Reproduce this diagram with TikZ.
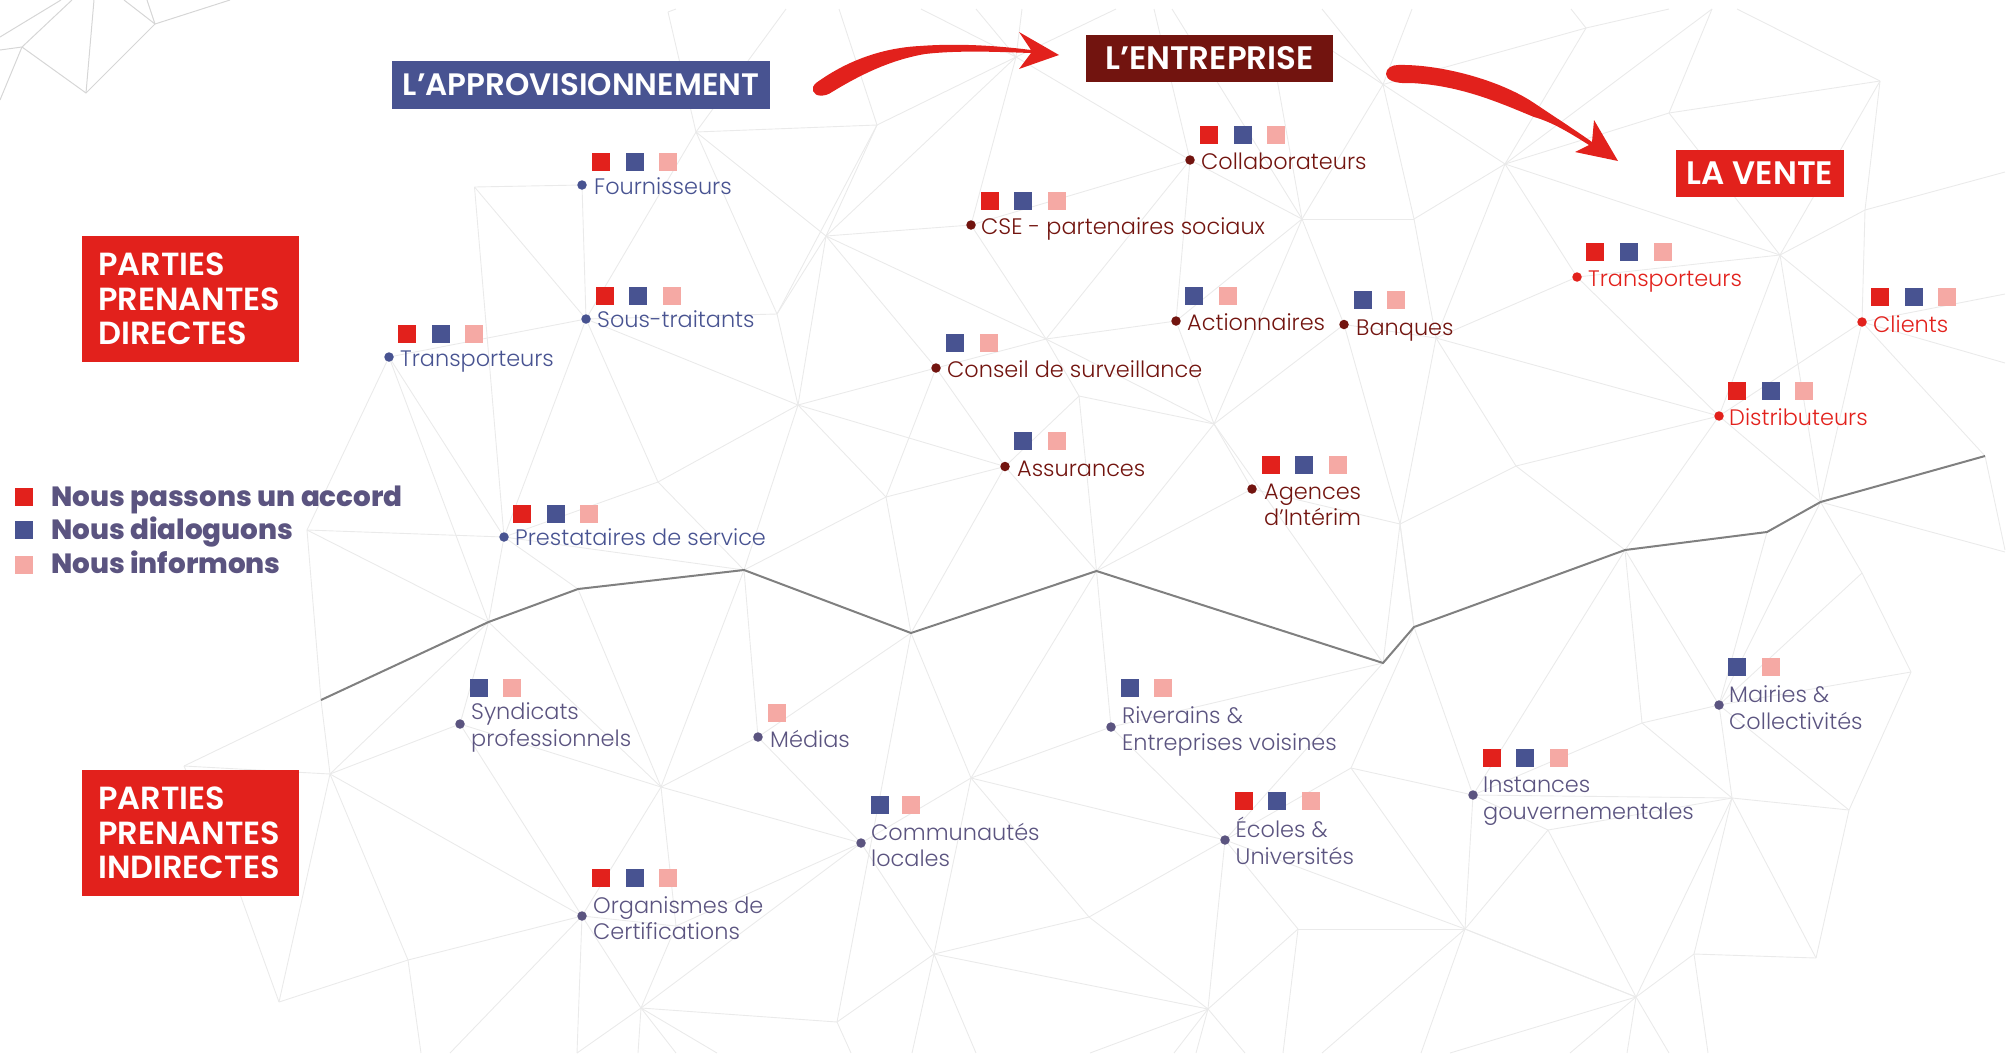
\documentclass[tikz,border=0pt]{standalone}
\usepackage{fontspec}
\usetikzlibrary{backgrounds}
\setmainfont{Poppins}
\newfontfamily\labf{Poppins}[UprightFont=* Light]
\newfontfamily\headf{Poppins}[UprightFont=* SemiBold]
\newfontfamily\legf{Poppins}[UprightFont=* ExtraBold]
\definecolor{cred}{HTML}{E2211C}
\definecolor{cblue}{HTML}{485391}
\definecolor{cpink}{HTML}{F5A9A4}
\definecolor{cdark}{HTML}{72140F}
\definecolor{cind}{HTML}{5B5480}
\definecolor{cmesh}{HTML}{EAEAEA}
\definecolor{cmeshtl}{HTML}{D6D6D6}
\definecolor{cgray}{HTML}{808080}
\tikzset{
  sqr/.style={rectangle,draw=none,fill=cred,minimum size=18pt,inner sep=0pt},
  sqb/.style={rectangle,draw=none,fill=cblue,minimum size=18pt,inner sep=0pt},
  sqp/.style={rectangle,draw=none,fill=cpink,minimum size=18pt,inner sep=0pt},
  dotn/.style={circle,draw=none,fill=#1,minimum size=9.5pt,inner sep=0pt},
  lab/.style={anchor=base west,yshift=-8pt,inner sep=0pt,text=#1,font=\labf\fontsize{22.4}{26.5}\selectfont},
  lab2/.style={anchor=west,align=left,inner sep=0pt,text=#1,font=\labf\fontsize{22.4}{26.5}\selectfont},
  titlebox/.style={rectangle,draw=none,fill=#1,text=white,inner sep=0pt,font=\headf\fontsize{32.5}{36}\selectfont},
  sidebox/.style={rectangle,draw=none,fill=cred,text=white,inner sep=0pt,minimum width=217pt,minimum height=126pt},
  sidetext/.style={anchor=west,align=left,inner sep=0pt,text=white,font=\headf\fontsize{32}{34.4}\selectfont},
  leg/.style={anchor=base west,inner sep=0pt,text=cind,font=\legf\fontsize{27.8}{32}\selectfont},
  meshl/.style={draw=cmesh,line width=0.9pt},
  meshtl/.style={draw=cmeshtl,line width=1pt},
  sep/.style={draw=cgray,line width=2pt,line join=miter},
  flow/.style={fill=cred,draw=none}
}
\begin{document}
\begin{tikzpicture}[x=1pt,y=-1pt]
\useasboundingbox (0,0) rectangle (2009,1053);
% mesh vertices
\foreach \n/\x/\y in {vA/696/132,vB/877/125,vC/826/236,vD/474.5/187,vE/798/405,vG/777/314,vH/658/482,vI/886/497,vK/1016/57,vM/1383/84.5,vN/1302/219,vO/1414/219,vP/1046/339,vQ/1079/396,vR/1214/424,vU/1436/338,vV/1505/164,vW/1780/255,vY/1516/466,vZ/1400/524,vBB/1586/28,vCC/1669/113,vDD/1880/81,vEE/1865/210,
g1/321/700,g2/488.5/622,g3/578/589,g4/744/570,g5/911/633,g6/1096.5/571,g7/1383/663,g8/1414/627,g9/1625/550,g10/1767/532,g11/1820.5/502,g12/1985/456,
vb1/307/530,a2/330/774,a4/184/766,a5/661/787,a7/971/778,a8/934/954,a9/837/1022,a10/641/1008,a12/408/960,a13/279/1002,a14/241/897,a15/577/1053,a16/676/926,
c6/1351/768,c7/1642/723,c8/1732/798,c9/1548/830,c10/1465/929,c11/1298/929,c12/1089/917,c13/1208/1009,c14/1636/997,c15/1816/958,c16/1694/954,c17/1849/810,c18/1911/672,c19/1862/573,
t1/668/12,t1b/676/9,t2/786/9,t3/839/9,t4/921/9,t5/976/9,t6/1022/9,t7/1116/9,t8/1154/9,t9/1172/9,t10/1322/9,t11/1412/9,t12/1571/9,t13/1669/9,t14/1712/9,t15/1737/9,t17/1270/40,t18/1310/36,
r1/2005/172,r2/2005/294,r3/2005/363,r4/2005/550,r6/2005/552,
b1/421/1053,b2/450/1053,b3/638/1053,b4/676/1053,b5/717/1053,b6/851/1053,b7/912/1053,b8/976/1053,b9/1090/1053,b10/1174/1053,b11/1196/1053,b12/1245/1053,b13/1283/1053,b14/1322/1053,b15/1421/1053,b16/1450/1053,b17/1570/1053,b18/1627/1053,b19/1669/1053,b20/1708/1053,
tl1/22/47,tl2/86/93,tl3/155/24,e1/230/0,e2/147/0,e3/124/0,e4/94/0,e5/72/0,e6/0/50,e7/0/100,e8/61/0,e9/0/37}
  \coordinate (\n) at (\x,\y);
% dots
\foreach \n/\x/\y in {dFou/582/185,dSou/586/319,dTra/389/357,dPre/504/537}
  \node[dotn=cblue] (\n) at (\x,\y) {};
\foreach \n/\x/\y in {dCol/1190/160,dCse/971/225,dAct/1176/321,dBan/1344/324.5,dCon/936/368,dAss/1005/466.5,dAge/1252/489}
  \node[dotn=cdark] (\n) at (\x,\y) {};
\foreach \n/\x/\y in {dTr2/1577/277,dCli/1862/322,dDis/1719/416}
  \node[dotn=cred] (\n) at (\x,\y) {};
\foreach \n/\x/\y in {dSyn/460/724,dMed/758/737,dCom/861/843,dOrg/582/916,dRiv/1111/727,dEco/1225/840,dIns/1473/795,dMai/1719/705}
  \node[dotn=cind] (\n) at (\x,\y) {};
% squares
\foreach \n/\x/\y in {r01/601/162,r02/605/296,r03/407/334,r04/522/513.5,r05/1209/135,r06/990/201,r07/1271/465,r08/1595/252,r09/1880/297,r10/1737/391,r11/601/878,r12/1244/801,r13/1492/758,r14/24/497}
  \node[sqr] (\n) at (\x,\y) {};
\foreach \n/\x/\y in {s01/635/162,s02/638/296,s03/441/334,s04/556/513.5,s05/1243/135,s06/1023/201,s07/1304/465,s08/1629/252,s09/1914/297,s10/1771/391,s11/635/878,s12/1277/801,s13/1525/758,s14/1194/295.5,s15/1363/299.5,s16/955/343,s17/1023/441,s18/479/688,s19/879.5/805,s20/1130/688,s21/1737/667,s22/24/530}
  \node[sqb] (\n) at (\x,\y) {};
\foreach \n/\x/\y in {p01/668/162,p02/672/296,p03/474/334,p04/589/513.5,p05/1276/135,p06/1057/201,p07/1338/465,p08/1663/252,p09/1947/297,p10/1804/391,p11/668/878,p12/1311/801,p13/1559/758,p14/1228/295.5,p15/1396/299.5,p16/989/343,p17/1057/441,p18/512/688,p19/911/805,p20/1163/688,p21/1771/667,p22/24/565,p23/777/713}
  \node[sqp] (\n) at (\x,\y) {};
% title boxes
\node[titlebox=cblue,minimum width=378pt,minimum height=47.5pt,font=\headf\fontsize{31}{36}\selectfont] (boxA) at (581,84.75) {L’APPROVISIONNEMENT};
\node[titlebox=cdark,minimum width=247pt,minimum height=47.5pt] (boxE) at (1209.5,58.25) {L’ENTREPRISE};
\node[titlebox=cred,minimum width=168pt,minimum height=47pt] (boxV) at (1760,173.5) {LA VENTE};
\node[sidebox] (boxD) at (190.5,299) {};
\node[sidetext] (txtD) at (98,299) {PARTIES\\PRENANTES\\DIRECTES};
\node[sidebox] (boxI) at (190.5,833) {};
\node[sidetext] (txtI) at (98,833) {PARTIES\\PRENANTES\\INDIRECTES};
% legend
\node[leg] (leg1) at (51,506) {Nous passons un accord};
\node[leg] (leg2) at (51,539.5) {Nous dialoguons};
\node[leg] (leg3) at (51,573) {Nous informons};
% labels
\node[lab=cblue] (lFou) at (594,186) {Fournisseurs};
\node[lab=cblue] (lSou) at (597,319) {Sous-traitants};
\node[lab=cblue] (lTra) at (400,358) {Transporteurs};
\node[lab=cblue] (lPre) at (515,537) {Prestataires de service};
\node[lab=cdark] (lCol) at (1201,161) {Collaborateurs};
\node[lab=cdark] (lCse) at (981,226) {CSE - partenaires sociaux};
\node[lab=cdark] (lAct) at (1187,322.5) {Actionnaires};
\node[lab=cdark] (lBan) at (1356,327) {Banques};
\node[lab=cdark] (lCon) at (947,369.5) {Conseil de surveillance};
\node[lab=cdark] (lAss) at (1017,468.5) {Assurances};
\node[lab2=cdark] (lAge) at (1264,505) {Agences\\d’Intérim};
\node[lab=cred] (lTr2) at (1588,278.5) {Transporteurs};
\node[lab=cred] (lCli) at (1873,324.5) {Clients};
\node[lab=cred] (lDis) at (1729,417) {Distributeurs};
\node[lab2=cind] (lSyn) at (471,727.5) {Syndicats\\professionnels};
\node[lab=cind] (lMed) at (770,739) {Médias};
\node[lab2=cind] (lCom) at (871,845) {Communautés\\locales};
\node[lab2=cind] (lOrg) at (593,918) {Organismes de\\Certifications};
\node[lab2=cind] (lRiv) at (1122,731.5) {Riverains \&\\Entreprises voisines};
\node[lab2=cind] (lEco) at (1235.5,841) {Écoles \&\\Universités};
\node[lab2=cind] (lIns) at (1483,801) {Instances\\gouvernementales};
\node[lab2=cind] (lMai) at (1729,707.5) {Mairies \&\\Collectivités};
% flow arrows
\fill[flow] (816,83) .. controls (845,62) and (880,48) .. (920,46) .. controls (960,43) and (1000,46) .. (1031,50)
  -- (1019,32) -- (1059,55) -- (1019,69) -- (1031,53)
  .. controls (1000,52) and (960,50) .. (925,54) .. controls (890,60) and (860,75) .. (832,92)
  .. controls (825,97) and (815,97) .. (813,91) .. controls (812,88) and (813,86) .. (816,83) -- cycle;
\fill[flow] (1398,65) .. controls (1440,64) and (1500,80) .. (1534,103) .. controls (1555,117) and (1575,130) .. (1592,142)
  -- (1594,120) -- (1618,161) -- (1575,152) -- (1589,145)
  .. controls (1570,133) and (1552,122) .. (1534,117) .. controls (1500,103) and (1460,85) .. (1410,83)
  .. controls (1395,84) and (1386,80) .. (1386,74) .. controls (1386,68) and (1392,65) .. (1398,65) -- cycle;
% separator
\draw[sep] (g1)--(g2)--(g3)--(g4)--(g5)--(g6)--(g7)--(g8)--(g9)--(g10)--(g11)--(g12);
% mesh
\begin{pgfonlayer}{background}
\foreach \a/\b in {tl3/e1,tl3/e2,tl3/e3,tl3/tl2,tl2/tl1,tl2/e4,tl1/e5,tl1/e6,tl1/e7,e8/e9}
  \draw[meshtl] (\a.center)--(\b.center);
\foreach \a/\b in {vA/t1,t1/t1b,vA/t2,vA/vB,vA/vC,vA/vG,vA/dSou,vB/t3,vB/vK,vB/vC,vB/vG,t4/vK,t5/vK,t6/vK,t7/vK,t8/dCol,t9/vN,t17/vN,t18/vM,
vC/vK,vC/dCse,vC/vG,vC/vE,vC/vP,vC/dCon,vK/dCse,vK/dCol,
vD/dFou,vD/dSou,vD/dPre,dFou/dSou,dSou/vG,dSou/vE,dSou/vH,dSou/dPre,dSou/dTra,vG/vE,vE/vH,vE/vI,vE/dAss,vE/dCon,vE/g4,vH/g4,vH/dPre,vI/dAss,vI/dCon,vI/g4,vI/g5,
dTra/vb1,dTra/dPre,dTra/g2,vb1/g1,vb1/dPre,vb1/g2,dPre/g2,dPre/g3,dPre/g4,
dCse/dCol,dCse/vP,vP/dCon,vP/dCol,vP/dAct,vP/vQ,vP/vR,vQ/vR,vQ/dAss,vQ/g6,dCon/dAss,dAss/g5,dAss/g6,
vR/dAge,vR/g6,vR/g7,vR/dAct,vR/dBan,vR/vN,dAge/g6,dAge/vZ,vZ/vY,vZ/dBan,vZ/vU,vZ/g7,vZ/g8,dBan/vN,dBan/vU,dAct/vN,dAct/dCol,
vN/dCol,vN/vM,vN/vO,vM/t10,vM/t11,vM/vO,vM/vV,vM/vBB,vO/vV,vO/vU,vU/vV,vU/dTr2,vU/dDis,vU/vY,vV/vBB,vV/vCC,vV/t14,vV/vW,vV/dTr2,vBB/t12,vBB/t13,vCC/vDD,vCC/t14,vCC/vW,vDD/t15,vDD/vW,vDD/vEE,
vW/dTr2,vW/dCli,vW/dDis,vW/vEE,vW/g11,vEE/dCli,vEE/r1,dCli/r2,dCli/r3,dCli/dDis,dCli/g11,dCli/g12,dDis/dTr2,dDis/vY,dDis/g11,dDis/g9,vY/g9,
g6/dRiv,g6/a7,g6/g5,dRiv/g7,dRiv/a7,dRiv/dEco,g7/dEco,g8/vZ,g8/c6,g8/dIns,c6/dEco,c6/dIns,c6/c10,g9/dIns,g9/c7,g9/dMai,g10/dMai,g11/dMai,g11/c19,g11/r6,g12/r4,c19/c18,c19/dMai,c18/dMai,c18/c17,
dMai/c7,dMai/c8,dMai/c17,c7/c8,c7/dIns,dIns/c8,dIns/c9,dIns/c10,c8/c9,c8/c17,c8/c15,c8/c16,c8/c14,c17/c15,c15/c16,c16/c14,c14/c9,c14/c10,c9/c10,c10/c11,c10/dEco,c11/dEco,c11/c13,
dEco/c13,dEco/c12,dEco/a7,c12/a7,c12/a8,c12/c13,a8/c13,a8/a9,a8/dCom,a8/a7,a7/dCom,a7/g5,a9/g5,a9/a10,dMed/g5,
dMed/g4,dMed/a5,dMed/dCom,a5/g4,a5/g2,a5/g3,a5/dCom,a5/dSyn,a5/dOrg,a5/a16,a16/dOrg,a16/a10,a16/dCom,dCom/a10,dOrg/a10,dOrg/a2,dOrg/a12,dOrg/dSyn,dOrg/a15,dOrg/b2,a15/a10,
a2/g1,a2/a4,a2/g2,a2/dSyn,a2/a12,a2/a13,g1/a4,dSyn/g2,a12/a13,a13/a14,a14/a4,a12/b1,
a10/b3,a10/b4,a10/b5,a9/b6,a8/b7,a8/b8,c13/b9,c13/b10,c13/b11,c13/b12,c11/b13,c10/b14,c10/b15,c10/c14,c14/b16,c14/b17,c14/b18,c14/b19,c16/b20}
  \draw[meshl] (\a.center)--(\b.center);
\end{pgfonlayer}
\end{tikzpicture}
\end{document}
